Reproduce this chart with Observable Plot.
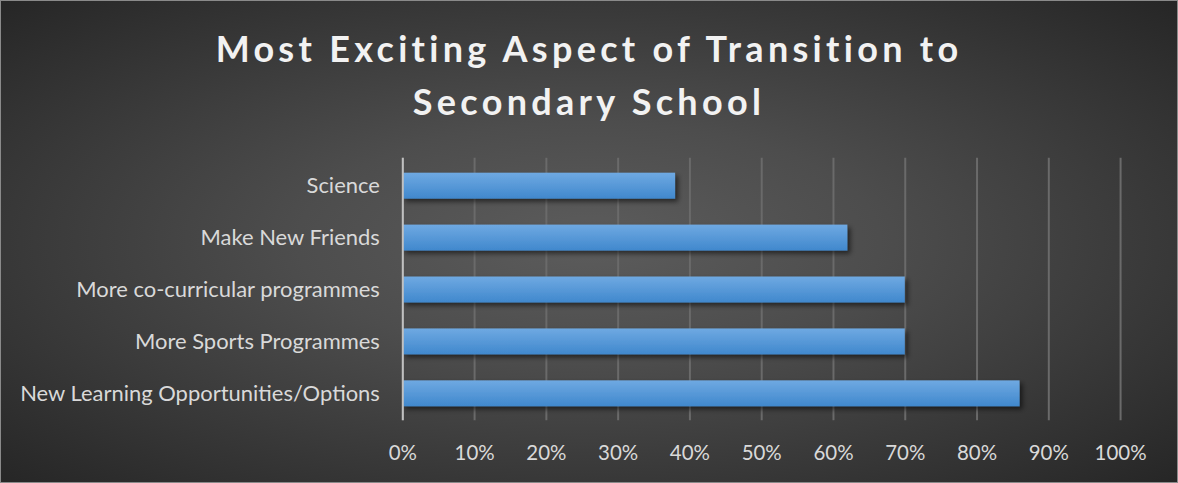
<!DOCTYPE html>
<html><head><meta charset="utf-8">
<script src="https://cdn.jsdelivr.net/npm/d3@7"></script>
<script src="https://cdn.jsdelivr.net/npm/@observablehq/plot@0.6"></script>
<style>
html,body{margin:0;padding:0;background:#262626;}
#chart{position:relative;width:1178px;height:483px;box-sizing:border-box;border:1px solid #8a8a8a;
  background:radial-gradient(ellipse farthest-corner at 50% 50%, #5c5c5c 0%, #4d4d4d 35%, #262626 100%);
  overflow:hidden;font-family:Lato,"Open Sans",sans-serif;}
#title{position:absolute;left:0;top:21px;width:100%;text-align:center;color:#f2f2f2;font-weight:bold;
  font-size:36px;line-height:53px;letter-spacing:4.3px;}
#chart svg{position:absolute;left:-1px;top:-1px;}
</style></head>
<body>
<div id="chart"><div id="title">Most Exciting Aspect of Transition to<br>Secondary School</div></div>
<script>
const categories = ["Science","Make New Friends","More co-curricular programmes","More Sports Programmes","New Learning Opportunities/Options"];
const values = [0.38, 0.62, 0.70, 0.70, 0.86];
const xTicks = [0,0.1,0.2,0.3,0.4,0.5,0.6,0.7,0.8,0.9,1.0];
const xTickLabels = ["0%","10%","20%","30%","40%","50%","60%","70%","80%","90%","100%"];

const data = categories.map((c,i)=>({category:c, value:values[i]}));
const font = 'Lato, "Open Sans", sans-serif';

const plot = Plot.plot({
  width:1178, height:483,
  marginTop:158, marginBottom:62, marginLeft:403, marginRight:56,
  x:{domain:[0,1], label:null},
  y:{domain:categories, paddingInner:0.5, paddingOuter:0.25, label:null},
  style:{background:"transparent", color:"#d9d9d9", fontSize:"21px", fontFamily:font},
  marks:[
    Plot.gridX(xTicks,{stroke:"#6a6a6a", strokeOpacity:1, strokeWidth:2}),
    Plot.barX(data,{x:"value", y:"category", fill:"url(#barGrad)"}),
    Plot.ruleX([0],{stroke:"#c0c0c0", strokeWidth:2}),
    Plot.axisX(xTicks,{tickSize:0, tickPadding:25, fill:"#d9d9d9", fontSize:20.5, fontFamily:font,
      tickFormat:(d)=>xTickLabels[xTicks.indexOf(d)], label:null}),
    Plot.axisY({tickSize:0, tickPadding:23, fill:"#d9d9d9", fontSize:22, fontFamily:font, label:null})
  ]
});

const svg = d3.select(plot);
const defs = svg.insert("defs", ":first-child");
const g = defs.append("linearGradient").attr("id","barGrad").attr("x1",0).attr("y1",0).attr("x2",0).attr("y2",1);
g.append("stop").attr("offset","0%").attr("stop-color","#6fa9e2");
g.append("stop").attr("offset","100%").attr("stop-color","#4088cd");
const f = defs.append("filter").attr("id","shadow").attr("x","-5%").attr("y","-30%").attr("width","115%").attr("height","180%");
f.append("feDropShadow").attr("dx",3).attr("dy",3).attr("stdDeviation",2.5).attr("flood-color","#000").attr("flood-opacity",0.55);
svg.selectAll("g[aria-label='bar'] rect").attr("filter","url(#shadow)");
document.getElementById("chart").appendChild(plot);
</script>
</body></html>
